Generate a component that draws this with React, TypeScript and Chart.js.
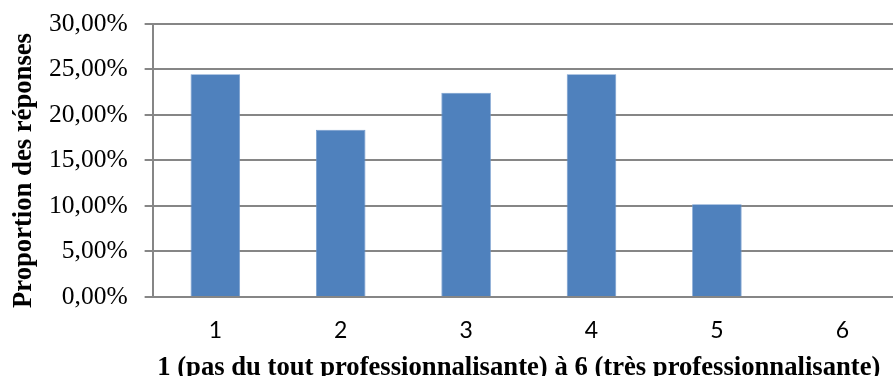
import React, { useEffect, useRef } from "react";
import { Chart, registerables } from "chart.js";

Chart.register(...registerables);

const categories = ["1", "2", "3", "4", "5", "6"];
const proportions = [24.49, 18.37, 22.45, 24.49, 10.2, 0];
const yTickMax = 30;
const yTickStep = 5;
const xTitle = "1 (pas du tout professionnalisante) à 6 (très professionnalisante)";
const yTitle = "Proportion des réponses";
// trailing no-break spaces nudge the centred titles like the original layout
const titleNudge = "\u00a0\u00a0\u00a0";

export default function App() {
  const ref = useRef<HTMLCanvasElement | null>(null);
  useEffect(() => {
    document.body.style.margin = "0";
    if (!ref.current) return;
    const chart = new Chart(ref.current, {
      type: "bar",
      data: {
        labels: categories,
        datasets: [
          {
            data: proportions,
            backgroundColor: "#4F81BD",
            borderColor: "#7098CC",
            borderWidth: 0.8,
            barPercentage: 0.395,
            categoryPercentage: 1,
          },
        ],
      },
      options: {
        animation: false,
        responsive: true,
        maintainAspectRatio: false,
        layout: { padding: { top: 0, right: 5, bottom: 3, left: 8 } },
        plugins: { legend: { display: false }, tooltip: { enabled: false } },
        scales: {
          x: {
            grid: { display: false, drawTicks: false },
            border: { display: true, color: "#868686", width: 2 },
            ticks: {
              color: "#000",
              padding: 20.2,
              font: { family: "Lato", size: 23 },
            },
            title: {
              display: true,
              text: xTitle + titleNudge,
              color: "#000",
              padding: { top: -13, bottom: 0 },
              font: { family: "Liberation Serif", size: 26.67, weight: "bold" },
            },
          },
          y: {
            min: 0,
            max: yTickMax,
            grid: { color: "#868686", lineWidth: 2, tickLength: 8, drawTicks: true },
            border: { display: true, color: "#868686", width: 2 },
            ticks: {
              stepSize: yTickStep,
              color: "#000",
              padding: 17,
              font: { family: "Liberation Serif", size: 25.5, lineHeight: 0.549 },
              callback: (v: any) => Number(v).toFixed(2).replace(".", ",") + "%",
            },
            title: {
              display: true,
              text: yTitle + titleNudge,
              color: "#000",
              padding: { top: 0, bottom: -8 },
              font: { family: "Liberation Serif", size: 26.67, weight: "bold" },
            },
          },
        },
      },
    });
    return () => chart.destroy();
  }, []);
  return (
    <div style={{ position: "absolute", left: 0, top: 0, width: 893, height: 376, overflow: "hidden" }}>
      <div style={{ position: "relative", width: 910, height: 387 }}>
        <canvas ref={ref} />
      </div>
    </div>
  );
}
